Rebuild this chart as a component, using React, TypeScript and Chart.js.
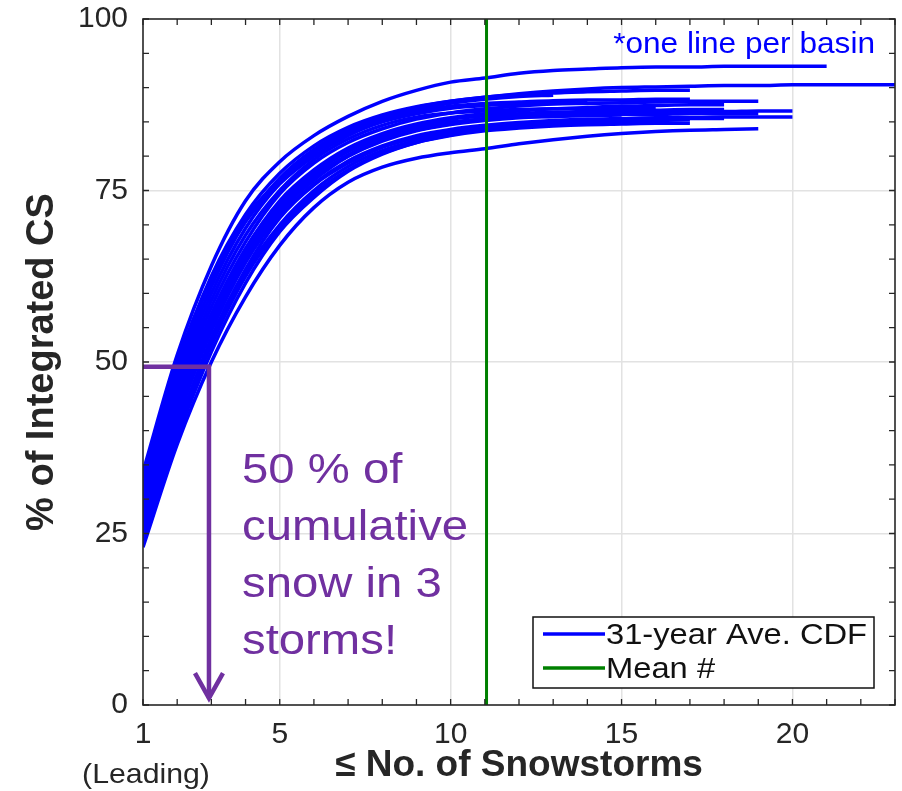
import React, { useEffect, useRef } from 'react';
import { Chart, registerables } from 'chart.js';

Chart.register(...registerables);

// ---------- data ----------
const stormNumbers = [1, 2, 3, 4, 5, 6, 7, 8, 9, 10, 11, 12, 13, 14, 15, 16, 17, 18, 19, 20, 21, 22, 23];

const basin01 = [34, 51, 64, 73.5, 79.2, 83, 85.8, 88, 89.6, 90.8, 91.4, 92.1, 92.5, 92.7, 92.9, 93.0, 93.0, 93.1, 93.1, 93.1, 93.1];
const basin02 = [32, 49.5, 62.5, 71.5, 77.5, 81.5, 84.2, 86.0, 87.2, 88.0, 88.6, 89.1, 89.5, 89.8, 90.0, 90.1, 90.2, 90.3, 90.3, 90.4, 90.4, 90.4, 90.4];
const basin03 = [31, 48, 61, 70.5, 76.8, 81, 83.8, 85.8, 87.1, 88.0, 88.6, 89.0, 89.2, 89.4, 89.5, 89.6, 89.6];
const basin04 = [30, 47, 60, 69.5, 76, 80.5, 83.4, 85.4, 86.8, 87.7, 88.3, 88.7, 88.9];
const basin05 = [29, 45, 58, 67.5, 74.5, 79, 82, 84, 85.4, 86.3, 86.9, 87.3, 87.6, 87.7, 87.8, 87.9, 88, 88, 88];
const basin06 = [28, 44, 57, 66.5, 73.5, 78, 81.2, 83.3, 84.7, 85.6, 86.2, 86.6, 86.9, 87.1, 87.3, 87.4, 87.5, 87.5];
const basin07 = [27, 43, 56, 66, 72.5, 77, 80.2, 82.4, 83.8, 84.7, 85.3, 85.7, 86, 86.2, 86.3, 86.4, 86.5, 86.5, 86.6, 86.6];
const basin08 = [26, 41.5, 54.5, 64.5, 71.5, 76, 79.3, 81.5, 83, 83.9, 84.5, 84.9, 85.2, 85.4, 85.5, 85.6, 85.6, 85.7, 85.7, 85.7];
const basin09 = [25, 40.5, 53, 63, 70, 75, 78.5, 80.8, 82.3, 83.3, 84, 84.5, 84.8, 85, 85.1, 85.2, 85.3];
const basin10 = [23, 38, 50, 59.5, 67, 72.5, 76.2, 78.4, 79.7, 80.5, 81.1, 81.8, 82.4, 82.9, 83.3, 83.6, 83.8, 83.9, 84.0];
const basin11 = [30, 46, 59, 68.5, 75, 79.5, 82.5, 84.5, 85.7, 86.3, 86.6, 86.8, 86.9, 86.9, 87, 87];
const basin12 = [27, 42, 55, 65, 72, 76.5, 80, 82.3, 83.8, 84.8, 85.5, 85.9, 86.1, 86.3, 86.4, 86.5, 86.5];
const basin13 = [29, 44, 56.5, 66.5, 73, 77.5, 80.7, 82.8, 84.2, 85, 85.4, 85.7, 85.8, 85.9, 86];
const basin14 = [26, 42, 55.5, 65.5, 72.8, 77.5, 80.8, 83, 84.5, 85.4, 85.9, 86.2, 86.4, 86.5, 86.6, 86.7, 86.8, 86.8];
const basin15 = [24, 39, 51.5, 61.5, 69, 74, 77.8, 80.3, 82, 83.1, 83.8, 84.3, 84.6, 84.8, 84.9, 85];
const basin16 = [31, 49, 62, 71, 76.5, 80.5, 83.2, 85.2, 86.5, 87.3, 87.7, 87.9, 88.1, 88.2, 88.2, 88.3, 88.3];
const basin17 = [33, 50, 62, 70.5, 76, 80, 83, 85, 86.2, 87, 87.4, 87.6, 87.7, 87.8];
const basin18 = [25, 40, 52.5, 62.5, 69.5, 74.5, 78, 80.4, 82, 83, 83.7, 84.1, 84.4, 84.6, 84.7, 84.8, 84.8];
const basin19 = [28, 43.5, 56, 65.5, 72.5, 77, 80, 82.2, 83.7, 84.6, 85.2, 85.6, 85.8, 86, 86.1, 86.1, 86.2, 86.2, 86.2];
const basin20 = [24, 40, 53.5, 63.5, 71, 75.8, 79, 81.3, 82.7, 83.6, 84.2, 84.7, 85, 85.2, 85.3, 85.4, 85.5, 85.5];

const basinCurves = [
  basin01, basin02, basin03, basin04, basin05, basin06, basin07, basin08, basin09, basin10,
  basin11, basin12, basin13, basin14, basin15, basin16, basin17, basin18, basin19, basin20,
];

const meanStorms = 11.05;
const xTickLabels = [1, 5, 10, 15, 20];
const yTickLabels = [0, 25, 50, 75, 100];

// annotation: 50 % reached at ~3 storms
const halfStorms = 2.93;
const halfPercent = 49.3;
const arrowEndPercent = 1;

const annotationLines = ['50 % of', 'cumulative', 'snow in 3', 'storms!'];
const noteText = '*one line per basin';
const legendLabels = ['31-year Ave. CDF', 'Mean #'];

// ---------- styles ----------
const FONT = '"Liberation Sans", Arial, Helvetica, sans-serif';
const BLUE = '#0000ff';
const GREEN = '#008000';
const PURPLE = '#7030a0';
const AXIS = '#262626';
const GRID = '#e2e2e2';

const overlayPlugin = {
  id: 'overlay',
  afterDatasetsDraw(chart: any) {
    const { ctx, chartArea, scales } = chart;
    const xs = scales.x;
    const ys = scales.y;
    const x0 = xs.getPixelForValue(1);
    const xh = xs.getPixelForValue(halfStorms);
    const yh = ys.getPixelForValue(halfPercent);
    const ye = ys.getPixelForValue(arrowEndPercent);
    ctx.save();
    ctx.strokeStyle = PURPLE;
    ctx.lineWidth = 4.5;
    ctx.lineJoin = 'miter';
    ctx.beginPath();
    ctx.moveTo(x0, yh);
    ctx.lineTo(xh, yh);
    ctx.lineTo(xh, ye);
    ctx.stroke();
    ctx.beginPath();
    ctx.moveTo(xh - 14, ye - 25);
    ctx.lineTo(xh, ye);
    ctx.lineTo(xh + 14, ye - 25);
    ctx.stroke();

    ctx.fillStyle = PURPLE;
    ctx.font = `43px ${FONT}`;
    ctx.textAlign = 'left';
    ctx.textBaseline = 'alphabetic';
    annotationLines.forEach((t, i) => {
      ctx.save();
      ctx.translate(chartArea.left + 99, chartArea.top + 464 + i * 57);
      ctx.scale(1.1, 1);
      ctx.fillText(t, 0, 0);
      ctx.restore();
    });
    ctx.restore();
  },
  afterDraw(chart: any) {
    const { ctx, chartArea, scales } = chart;
    const { left, right, top, bottom } = chartArea;
    const xs = scales.x;
    const ys = scales.y;
    ctx.save();
    ctx.strokeStyle = AXIS;
    ctx.lineWidth = 1.6;
    ctx.strokeRect(left, top, right - left, bottom - top);
    ctx.lineWidth = 1.3;
    ctx.beginPath();
    for (let v = 1; v <= 23; v++) {
      const px = xs.getPixelForValue(v);
      ctx.moveTo(px, bottom);
      ctx.lineTo(px, bottom - 6);
      ctx.moveTo(px, top);
      ctx.lineTo(px, top + 6);
    }
    for (let v = 0; v <= 100; v += 5) {
      const py = ys.getPixelForValue(v);
      ctx.moveTo(left, py);
      ctx.lineTo(left + 6, py);
      ctx.moveTo(right, py);
      ctx.lineTo(right - 6, py);
    }
    ctx.stroke();

    ctx.fillStyle = AXIS;
    ctx.font = `28px ${FONT}`;
    ctx.textAlign = 'center';
    ctx.textBaseline = 'alphabetic';
    ctx.save();
    ctx.translate(xs.getPixelForValue(1) + 3, bottom + 78);
    ctx.scale(1.08, 1);
    ctx.fillText('(Leading)', 0, 0);
    ctx.restore();

    ctx.fillStyle = BLUE;
    ctx.font = `29px ${FONT}`;
    ctx.textAlign = 'right';
    ctx.save();
    ctx.translate(right - 20, top + 34);
    ctx.scale(1.09, 1);
    ctx.fillText(noteText, 0, 0);
    ctx.restore();

    const lx0 = right - 362;
    const lx1 = right - 21;
    const ly0 = bottom - 88;
    const ly1 = bottom - 17;
    ctx.fillStyle = '#ffffff';
    ctx.fillRect(lx0, ly0, lx1 - lx0, ly1 - ly0);
    ctx.strokeStyle = '#111111';
    ctx.lineWidth = 1.5;
    ctx.strokeRect(lx0, ly0, lx1 - lx0, ly1 - ly0);
    const colors = [BLUE, GREEN];
    legendLabels.forEach((lab, i) => {
      const cy = ly0 + 17 + i * 34;
      ctx.strokeStyle = colors[i];
      ctx.lineWidth = 3.5;
      ctx.beginPath();
      ctx.moveTo(lx0 + 10, cy);
      ctx.lineTo(lx0 + 72, cy);
      ctx.stroke();
      ctx.fillStyle = '#111111';
      ctx.font = `30px ${FONT}`;
      ctx.textAlign = 'left';
      ctx.save();
      ctx.translate(lx0 + 73, cy + 10);
      ctx.scale(1.09, 1);
      ctx.fillText(lab, 0, 0);
      ctx.restore();
    });
    ctx.restore();
  },
};

export default function App() {
  const canvasRef = useRef<HTMLCanvasElement | null>(null);

  useEffect(() => {
    const canvas = canvasRef.current;
    if (!canvas) return;

    const blueSets = basinCurves.map((curve, i) => ({
      label: i === 0 ? legendLabels[0] : `basin ${i + 1}`,
      data: curve.map((v, j) => ({ x: stormNumbers[j], y: v })),
      borderColor: BLUE,
      backgroundColor: BLUE,
      borderWidth: 3.5,
      pointRadius: 0,
      fill: false,
      cubicInterpolationMode: 'monotone' as const,
      order: 2,
    }));

    const chart = new Chart(canvas, {
      type: 'line',
      data: {
        datasets: [
          {
            label: legendLabels[1],
            data: [
              { x: meanStorms, y: 0 },
              { x: meanStorms, y: 100 },
            ],
            borderColor: GREEN,
            backgroundColor: GREEN,
            borderWidth: 3,
            pointRadius: 0,
            fill: false,
            order: 1,
          },
          ...blueSets,
        ],
      },
      options: {
        responsive: false,
        animation: false,
        devicePixelRatio: 1,
        layout: { padding: { top: 19, right: 7, left: 0, bottom: 0 } },
        plugins: {
          legend: { display: false },
          tooltip: { enabled: false },
        },
        scales: {
          x: {
            type: 'linear',
            min: 1,
            max: 23,
            afterFit: (s: any) => {
              s.height = 86;
              s.paddingLeft = 0;
              s.paddingRight = 0;
            },
            ticks: {
              stepSize: 1,
              autoSkip: false,
              maxRotation: 0,
              padding: 12,
              color: AXIS,
              font: { family: FONT, size: 30 },
              callback: (v: any) => (xTickLabels.includes(Number(v)) ? String(v) : ''),
            },
            grid: {
              drawTicks: false,
              lineWidth: 1.5,
              color: (c: any) =>
                c.tick && [5, 10, 15, 20].includes(c.tick.value) ? GRID : 'rgba(0,0,0,0)',
            },
            border: { display: false },
            title: {
              display: true,
              text: '≤ No. of Snowstorms',
              color: AXIS,
              font: { family: FONT, size: 37, weight: 'bold' },
              padding: { top: 0, bottom: 3 },
            },
          },
          y: {
            type: 'linear',
            min: 0,
            max: 100,
            afterFit: (s: any) => {
              s.width = 143;
              s.paddingTop = 0;
              s.paddingBottom = 0;
            },
            ticks: {
              stepSize: 5,
              autoSkip: false,
              padding: 15,
              color: AXIS,
              font: { family: FONT, size: 30 },
              callback: (v: any) => (yTickLabels.includes(Number(v)) ? String(v) : ''),
            },
            grid: {
              drawTicks: false,
              lineWidth: 1.5,
              color: (c: any) =>
                c.tick && [25, 50, 75].includes(c.tick.value) ? GRID : 'rgba(0,0,0,0)',
            },
            border: { display: false },
            title: {
              display: true,
              text: '% of Integrated CS',
              color: AXIS,
              font: { family: FONT, size: 38, weight: 'bold' },
              padding: { top: 20, bottom: 0 },
            },
          },
        },
      },
      plugins: [overlayPlugin],
    });

    return () => {
      chart.destroy();
    };
  }, []);

  return (
    <div style={{ position: 'absolute', left: 0, top: 0, width: 902, height: 791, background: '#ffffff' }}>
      <canvas ref={canvasRef} width={902} height={791} />
    </div>
  );
}
